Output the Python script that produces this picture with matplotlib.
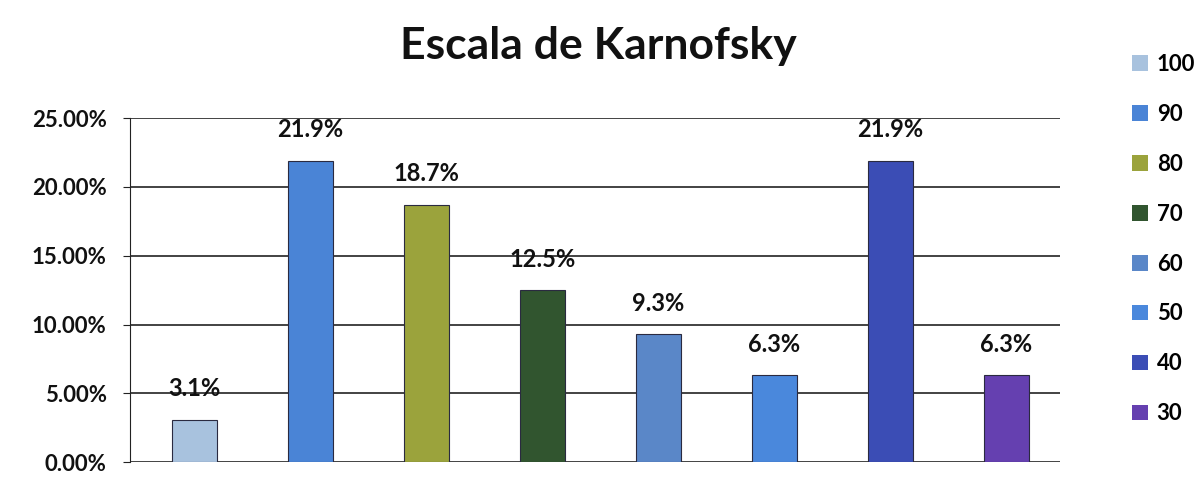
#!/usr/bin/env python3

'''
Karnofsky scale bar chart.
'''

import matplotlib
matplotlib.use('Agg')
import matplotlib.pyplot as pl
from matplotlib.ticker import FuncFormatter
from matplotlib.patches import Patch

# Data
categories=['100','90','80','70','60','50','40','30']
values=[0.031,0.219,0.187,0.125,0.093,0.063,0.219,0.063]
labels=['3.1%','21.9%','18.7%','12.5%','9.3%','6.3%','21.9%','6.3%']
colors=['#a8c2de','#4a84d6','#9ba33c','#31552f','#5a87c8','#4a88dc','#3b4db5','#6540b0']

pl.rcParams['font.family']=['Lato','DejaVu Sans']

fig=pl.figure(figsize=(11.96,4.86),dpi=100)
ax=fig.add_axes([0.109,0.049,0.777,0.708])

for i,(cat,val,col) in enumerate(zip(categories,values,colors)):
    ax.bar(i,val,width=0.39,color=col,edgecolor='#2a2a40',linewidth=0.8,label=cat,zorder=3)

for i,(val,lab) in enumerate(zip(values,labels)):
    ax.annotate(lab,(i,val),xytext=(0,14),textcoords='offset points',
                ha='center',va='bottom',fontsize=17,fontweight='bold',color='#111111')

ax.set_ylim(0,0.25)
ax.set_xlim(-0.55,7.46)
ax.set_yticks([0,0.05,0.10,0.15,0.20,0.25])
ax.yaxis.set_major_formatter(FuncFormatter(lambda v,p: f'{v*100:.2f}%'))
ax.set_xticks([])
ax.grid(axis='y',color='#222222',linewidth=1.2,zorder=0)
for s in ['top','right','bottom']:
    ax.spines[s].set_visible(False)
ax.spines['left'].set_color('#222222')
ax.tick_params(axis='y',length=5,color='#222222',labelsize=16,pad=12)
for t in ax.get_yticklabels():
    t.set_fontweight('bold')
    t.set_color('#111111')

fig.text(0.50,0.905,'Escala de Karnofsky',ha='center',va='center',
         fontsize=32,fontweight='bold',color='#111111')

handles=[Patch(facecolor=c,edgecolor='none') for c in colors]
leg=fig.legend(handles,categories,loc='upper left',bbox_to_anchor=(0.93,0.93),
               frameon=False,handlelength=0.7,handleheight=0.7,handletextpad=0.4,
               labelspacing=1.3,prop={'size':16,'weight':'bold'})

pl.savefig('out.png',dpi=100)
